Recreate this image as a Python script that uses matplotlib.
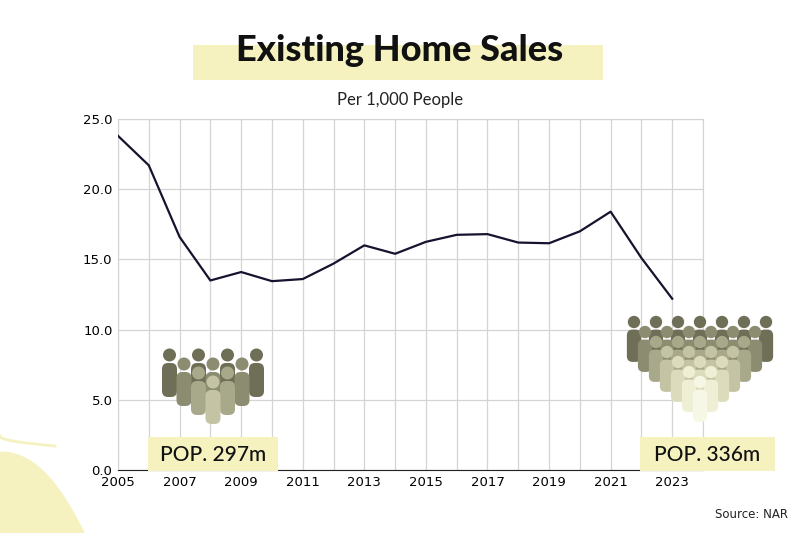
import matplotlib
matplotlib.use("Agg")
import matplotlib.pyplot as plt
from matplotlib.patches import Circle, FancyBboxPatch, Polygon
import numpy as np

years = list(range(2005, 2024))
sales = [23.8, 21.7, 16.6, 13.5, 14.1, 13.45, 13.6, 14.7, 16.0, 15.4,
         16.25, 16.75, 16.8, 16.2, 16.15, 17.0, 18.4, 15.1, 12.2]
tick_years = list(range(2005, 2024, 2))
pop_labels = ["POP. 297m", "POP. 336m"]

HL = "#f5f2c0"
fig = plt.figure(figsize=(8, 5.33), dpi=100)

# decorative background overlay in pixel coords
bg = fig.add_axes([0, 0, 1, 1], zorder=0)
bg.set_xlim(0, 800)
bg.set_ylim(533, 0)
bg.axis("off")
t = np.linspace(0, 1, 60)
cx = 0 + 60 * np.sin(t * np.pi / 2) + 25 * t ** 3
cy = 452 + 81 * t ** 1.4 - 10 * np.sin(t * np.pi)
bg.add_patch(Polygon(np.column_stack([np.r_[0, cx, 0], np.r_[452, cy, 533]]), color=HL, lw=0))
bg.plot(np.r_[0, 40 * np.sin(t * np.pi / 2) + 40 * t ** 2] + 0, np.r_[436, 436 - 4 * np.sin(t * np.pi) + 97 * t ** 1.6] * 0 + np.r_[436, 436 + 5 * t],
        alpha=0)
arc_x = 30 * np.sin(t * np.pi / 2) + 25 * t ** 2
arc_y = 436 + 10 * t ** 0.5
bg.plot(np.r_[0, arc_x], np.r_[436, arc_y], color=HL, lw=2)
bg.add_patch(FancyBboxPatch((193, 45), 410, 35, boxstyle="square,pad=0", color=HL, lw=0))

ax = fig.add_axes([118 / 800, (533 - 470) / 533, (703 - 118) / 800, (470 - 119) / 533], zorder=1)
ax.patch.set_alpha(0)
ax.plot(years, sales, color="#15132e", lw=1.6, zorder=3)
ax.set_xlim(2005, 2024)
ax.set_ylim(0, 25)
ax.set_xticks(range(2005, 2025))
ax.set_xticklabels([str(y) if y in tick_years else "" for y in range(2005, 2025)])
ax.set_yticks([0, 5, 10, 15, 20, 25])
ax.set_yticklabels([f"{v:.1f}" for v in [0, 5, 10, 15, 20, 25]])
ax.grid(True, color="#d4d4d4", lw=0.9)
ax.tick_params(length=0, labelsize=9.5, pad=4)
for s in ax.spines.values():
    s.set_color("#d4d4d4")
ax.spines["bottom"].set_color("#222222")

fig.text(0.5, 0.905, "Existing Home Sales", ha="center", va="center",
         fontsize=26, fontweight="black", family="Lato", color="#111111")
fig.text(0.5, 0.812, "Per 1,000 People", ha="center", va="center",
         fontsize=12, family="Lato", color="#222222")
fig.text(0.985, 0.035, "Source: NAR", ha="right", va="center", fontsize=8.5, color="#222222")

# people overlay
fg = fig.add_axes([0, 0, 1, 1], zorder=2)
fg.set_xlim(0, 800)
fg.set_ylim(533, 0)
fg.axis("off")
row_cols = ["#6f6f58", "#8c8c70", "#a8a88a", "#c4c4a4", "#dcdcbc", "#efefd6", "#f7f7e6"]


def person(x, y, s, c):
    fg.add_patch(Circle((x, y), 6.5 * s, color=c, lw=0))
    fg.add_patch(FancyBboxPatch((x - 7.5 * s, y + 8 * s), 15 * s, 34 * s,
                                boxstyle=f"round,pad=0,rounding_size={6 * s}", color=c, lw=0))


def crowd(cx, top, rows, dx, dy, s):
    for i, n in enumerate(rows):
        for j in range(n):
            x = cx + (j - (n - 1) / 2) * dx
            person(x, top + i * dy, s, row_cols[min(i, len(row_cols) - 1)])


crowd(213, 355, [4, 3, 2, 1], 29, 9, 1.0)
crowd(700, 322, [7, 6, 5, 4, 3, 2, 1], 22, 10, 0.95)

for x, w, lab in [(148, 130, pop_labels[0]), (640, 135, pop_labels[1])]:
    fg.add_patch(FancyBboxPatch((x, 437), w, 34, boxstyle="square,pad=0", color=HL, lw=0))
    fg.text(x + w / 2, 455, lab, ha="center", va="center", fontsize=15,
            family="Lato", fontweight="medium", color="#111111")

fig.savefig("out.png", dpi=100)
